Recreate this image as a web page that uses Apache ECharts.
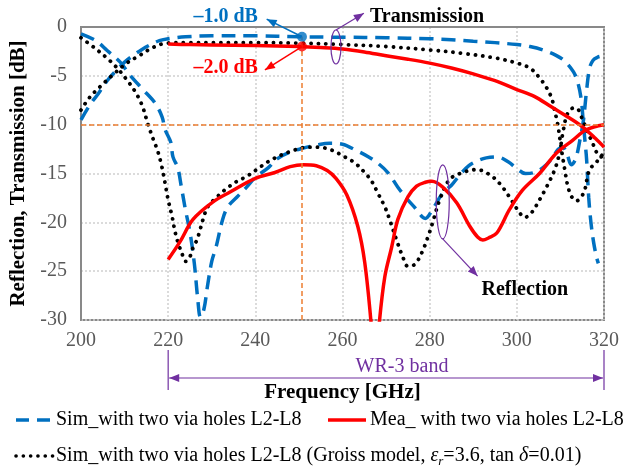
<!DOCTYPE html>
<html><head><meta charset="utf-8">
<script src="https://cdn.jsdelivr.net/npm/echarts/dist/echarts.min.js"></script>
<style>html,body{margin:0;padding:0;background:#fff}#c{width:625px;height:470px}</style>
</head><body><div id="c"></div>
<script>
// ---- axis ticks ----
const xTicks = [200, 220, 240, 260, 280, 300, 320];
const yTicks = [-30, -25, -20, -15, -10, -5, 0];

// ---- Sim_with two via holes (blue dashed): reflection ----
const simReflF = [200,203.4,206,209,211.2,214.2,217,218.6,219.3,220.6,221.1,222.2,223,224,225,226,226.8,227.4,228.2,229,230,231,232.5,233.7,235.8,238,240,243,245,248,251,254,257,260,263,266,268,270.4,272.7,275,276.6,278.2,279,280.5,283,285,287,289,291,293,295.5,298,300,302,304,306,308,309.5,310.5,311.5,312.5,313.5,314.5,315.3,316,316.7,317.5,318.5,319.3,320];
const simReflDb = [-0.7,-1.4,-2.4,-3.6,-4.9,-6.4,-7.8,-9.2,-10.5,-11.8,-13.3,-14.4,-16.3,-18.8,-21,-24.2,-27.9,-29.7,-28.9,-26.6,-24.0,-22.5,-19.7,-18.4,-17.4,-16.4,-15.4,-14.4,-13.5,-12.8,-12.4,-12.1,-11.9,-12.0,-12.6,-13.3,-13.9,-14.9,-16.4,-17.7,-18.5,-19.4,-19.6,-18.8,-17,-16.2,-15.1,-14.2,-13.7,-13.4,-13.3,-13.8,-14.5,-15.0,-14.9,-14.4,-13.5,-12.5,-12.3,-13,-14.1,-13.5,-11.5,-9.5,-6.5,-4.2,-3.4,-3.1,-3.0,-3.2];
// ---- Sim_with two via holes (blue dashed): transmission ----
const simTransF = [200,202,204,206,208,210,212,214,216,218,220,224,230,240,250,260,270,280,285,290,295,300,303,306,309,311,313,314,314.8,315.2,315.6,316,316.5,317,317.6,318.3,318.7];
const simTransDb = [-9.5,-8.0,-6.8,-5.5,-4.5,-3.6,-2.9,-2.3,-1.8,-1.4,-1.2,-1.0,-0.9,-0.9,-1.0,-1.05,-1.1,-1.2,-1.3,-1.45,-1.6,-1.8,-2.0,-2.35,-2.9,-3.5,-4.6,-5.7,-7.5,-9.5,-11.5,-13.5,-17.5,-20,-22,-23.6,-24.2];

// ---- Mea_ with two via holes (red solid) ----
const meaTransF = [220,225,230,240,250,255,260,265,270,275,280,285,290,295,300,304,308,312,315,318,320];
const meaTransDb = [-1.75,-1.8,-1.85,-1.9,-2.0,-2.1,-2.25,-2.55,-2.95,-3.3,-3.7,-4.2,-4.8,-5.5,-6.4,-7.1,-8.2,-9.3,-10.2,-11.4,-12.3];
const meaReflF = [220,222.7,225.7,230.3,234.2,240,244.5,248,251,254,256.5,258.5,261,263.5,265.1,266.6,267.5,268.4,269.7,271.3,272.7,275,277,279,280.5,283,286.2,289.2,291,292.2,293.5,295.4,298.3,301.3,305.2,309.1,312.8,316,320];
const meaReflDb = [-23.8,-22,-19.7,-17.9,-16.9,-15.5,-14.9,-14.3,-14.1,-14.2,-14.7,-15.5,-17.2,-20.4,-24.1,-30.5,-36,-30.5,-25.6,-22.5,-19.7,-17.4,-16.3,-15.9,-15.8,-16.4,-18,-20.4,-21.5,-21.8,-21.6,-21.1,-18.7,-16.7,-15,-12.9,-11.6,-10.5,-10.0];

// ---- Sim Groiss model (black dotted) ----
const groTransF = [200,202,204.4,207.3,210.5,213.5,216.5,219.7,225,240,250,260,270,280,287.6,295.4,300,303,305.2,306.8,308,308.7,309.4,309.9,310.4,311,311.7,312.6,313.7,314.8,315.7,316.3,317,318,319,320];
const groTransDb = [-8.5,-7.2,-6.1,-4.9,-3.7,-2.9,-2.1,-1.65,-1.6,-1.6,-1.65,-1.8,-2.0,-2.35,-2.7,-3.2,-3.7,-4.2,-5.2,-6.2,-7.3,-8.6,-10,-11.5,-13,-14.6,-16.3,-17.4,-17.8,-17.4,-16.5,-15.1,-14.4,-14.0,-13.4,-12.9];
const groReflF = [200,203,206,208.3,210.5,212.4,214,215.4,216.5,217.6,218.6,219.3,220,220.9,221.5,222.2,223.1,224,225,225.7,226.6,227.3,228,229.1,231.2,233.5,235.8,238,240.3,242.9,246,249,252,254.3,257.5,260.5,262.8,265.1,266.7,268.1,269.7,270.8,272.4,273.8,275,276.6,278.2,279.6,280.7,282.3,284.6,287.6,290.8,293.7,296,298.3,300.6,301.8,303.4,305.2,306.8,308.7,309.8,310.5,311.6,313,314,315,316.2,317.4,318.5,319.3,320];
const groReflDb = [-1.1,-2.1,-3.2,-4.2,-5.4,-6.6,-8,-10,-11.4,-12.7,-14.4,-16,-17.7,-19.4,-20.8,-22,-23.1,-24,-23.5,-22.6,-21.8,-20.8,-19.7,-18.4,-17.4,-16.5,-15.8,-15.3,-14.6,-13.8,-13.1,-12.6,-12.3,-12.3,-12.6,-13.3,-13.9,-14.9,-15.8,-17,-18.4,-19.7,-21.8,-23.5,-24.5,-24.3,-23.1,-21.5,-20,-17.7,-15.6,-14.9,-14.6,-15.1,-16,-17.4,-19,-19.5,-19,-17.7,-16.4,-14.6,-12.9,-11,-8.9,-8.3,-8.4,-9.4,-10.7,-11.9,-13.0,-13.3,-13.1];

// ---- reference markers ----
const markerF = [250.7];
const markerSimDb = [-1.0];
const markerMeaDb = [-2.0];
const refLevelDb = [-10];
const bandF = [220, 320];

const BLUE = '#0070C0', RED = '#FF0000', BLACK = '#000000', ORANGE = '#ED7D31', PURPLE = '#7030A0', GREY = '#898989';
const FONT = '"Liberation Serif", "Times New Roman", serif';
const zip = (a, b) => a.map((v, i) => [v, b[i]]);

const chart = echarts.init(document.getElementById('c'), null, {renderer: 'canvas'});

const blueLine = {color: BLUE, width: 3.5, type: [14, 8]};
const redLine = {color: RED, width: 3.5, join: 'round'};
const blackLine = {color: BLACK, width: 3.8, type: [0.1, 7.4], cap: 'round'};
const SM = 0.35;

const option = {
  animation: false,
  backgroundColor: '#fff',
  grid: {left: 81, right: 21, top: 27, bottom: 150, show: true, borderColor: GREY, borderWidth: 2, backgroundColor: 'transparent'},
  xAxis: {
    type: 'value', min: xTicks[0], max: xTicks[xTicks.length - 1], interval: 20,
    axisLine: {show: true, lineStyle: {color: GREY, width: 2}},
    axisTick: {show: false},
    axisLabel: {color: '#595959', fontSize: 20, fontFamily: FONT, margin: 11},
    splitLine: {show: true, lineStyle: {color: '#cfcfcf', width: 1.5, type: [2, 2]}},
    name: 'Frequency [GHz]', nameLocation: 'middle', nameGap: 62,
    nameTextStyle: {color: '#000', fontSize: 21, fontWeight: 'bold', fontFamily: FONT}
  },
  yAxis: {
    type: 'value', min: yTicks[0], max: yTicks[yTicks.length - 1], interval: 5,
    axisLine: {show: true, lineStyle: {color: GREY, width: 2}},
    axisTick: {show: false},
    axisLabel: {color: '#595959', fontSize: 20, fontFamily: FONT, margin: 14},
    splitLine: {show: true, lineStyle: {color: '#cfcfcf', width: 1.5, type: [2, 2]}},
    name: 'Reflection, Transmission [dB]', nameLocation: 'middle', nameGap: 43,
    nameTextStyle: {color: '#000', fontSize: 21, fontWeight: 'bold', fontFamily: FONT}
  },
  series: [
    {type: 'line', name: 'ref', data: [], z: 1, silent: true,
     markLine: {silent: true, symbol: 'none', label: {show: false}, animation: false,
       lineStyle: {color: ORANGE, width: 1.5, type: [5, 3]},
       data: [
         [{coord: [markerF[0], yTicks[0]]}, {coord: [markerF[0], markerSimDb[0]]}],
         [{coord: [xTicks[0], refLevelDb[0]]}, {coord: [xTicks[xTicks.length - 1], refLevelDb[0]]}]
       ]}},
    {type: 'line', name: 'simRefl', data: zip(simReflF, simReflDb), showSymbol: false, smooth: SM, lineStyle: blueLine, z: 2},
    {type: 'line', name: 'simTrans', data: zip(simTransF, simTransDb), showSymbol: false, smooth: SM, lineStyle: blueLine, z: 2},
    {type: 'line', name: 'groRefl', data: zip(groReflF, groReflDb), showSymbol: false, smooth: SM, lineStyle: blackLine, z: 3},
    {type: 'line', name: 'groTrans', data: zip(groTransF, groTransDb), showSymbol: false, smooth: SM, lineStyle: blackLine, z: 3},
    {type: 'line', name: 'meaTrans', data: zip(meaTransF, meaTransDb), showSymbol: false, smooth: SM, lineStyle: redLine, z: 4},
    {type: 'line', name: 'meaRefl', data: zip(meaReflF, meaReflDb), showSymbol: false, smooth: SM, lineStyle: redLine, z: 4},
    {type: 'scatter', name: 'simMark', data: zip(markerF, markerSimDb), symbolSize: 10, itemStyle: {color: BLUE}, z: 6},
    {type: 'scatter', name: 'meaMark', data: zip(markerF, markerMeaDb), symbolSize: 10, itemStyle: {color: RED}, z: 6}
  ]
};
chart.setOption(option);

const px = (f, d) => chart.convertToPixel({gridIndex: 0}, [f, d]);

function arrow(p1, p2, color, w, both) {
  const els = [{type: 'line', shape: {x1: p1[0], y1: p1[1], x2: p2[0], y2: p2[1]}, style: {stroke: color, lineWidth: w}, z: 100}];
  const head = (a, b) => {
    const ang = Math.atan2(b[1] - a[1], b[0] - a[0]);
    const L = 10, H = 4;
    const bx = b[0] - L * Math.cos(ang), by = b[1] - L * Math.sin(ang);
    return {type: 'polygon', shape: {points: [[b[0], b[1]], [bx + H * Math.sin(ang), by - H * Math.cos(ang)], [bx - H * Math.sin(ang), by + H * Math.cos(ang)]]}, style: {fill: color}, z: 100};
  };
  els.push(head(p1, p2));
  if (both) els.push(head(p2, p1));
  return els;
}
function text(t, p, color, size, bold, align) {
  return {type: 'text', z: 100, style: {text: t, x: p[0], y: p[1], fill: color, font: (bold ? 'bold ' : '') + size + 'px ' + FONT, align: align || 'center', verticalAlign: 'middle'}};
}

const dotS = px(markerF[0], markerSimDb[0]);
const dotM = px(markerF[0], markerMeaDb[0]);
const g = [];
g.push(text('\u20131.0 dB', px(233.2, 1.0), BLUE, 20, true));
g.push(...arrow(dotS, px(242.6, 0.8), BLUE, 1.5));
g.push(text('\u20132.0 dB', px(233.2, -4.2), RED, 20, true));
g.push(...arrow(dotM, px(242.2, -4.4), RED, 1.5));
g.push(text('Transmission', px(266.3, 1.0), BLACK, 20, true, 'left'));
const te = px(258.5, -2.05);
g.push({type: 'ellipse', z: 100, shape: {cx: te[0], cy: te[1], rx: 5, ry: 17}, style: {fill: 'none', stroke: PURPLE, lineWidth: 1.2}});
g.push(...arrow([te[0], te[1] - 17], px(264.9, 1.4), PURPLE, 1.2));
g.push(text('Reflection', px(291.9, -26.9), BLACK, 20, true, 'left'));
const re = px(283, -17.9);
g.push({type: 'ellipse', z: 100, shape: {cx: re[0], cy: re[1], rx: 6.5, ry: 37}, style: {fill: 'none', stroke: PURPLE, lineWidth: 1.2}});
g.push(...arrow([re[0], re[1] + 37], px(291, -25.5), PURPLE, 1.2));
// WR-3 band
const b1 = px(bandF[0], yTicks[0]), b2 = px(bandF[1], yTicks[0]);
g.push({type: 'line', z: 100, shape: {x1: b1[0], y1: 350, x2: b1[0], y2: 390}, style: {stroke: PURPLE, lineWidth: 1.2}});
g.push({type: 'line', z: 100, shape: {x1: b2[0], y1: 350, x2: b2[0], y2: 390}, style: {stroke: PURPLE, lineWidth: 1.2}});
g.push(...arrow([b1[0] + 1, 378], [b2[0] - 1, 378], PURPLE, 1.2, true));
g.push(text('WR-3 band', [402, 367], PURPLE, 20, false));
// legend
g.push({type: 'line', z: 100, shape: {x1: 16, y1: 420, x2: 50, y2: 420}, style: {stroke: BLUE, lineWidth: 3.5, lineDash: [13, 8]}});
g.push(text('Sim_with two via holes L2-L8', [56, 420], BLACK, 20, false, 'left'));
g.push({type: 'line', z: 100, shape: {x1: 328, y1: 420, x2: 366, y2: 420}, style: {stroke: RED, lineWidth: 3.5}});
g.push(text('Mea_ with two via holes L2-L8', [370, 420], BLACK, 20, false, 'left'));
g.push({type: 'line', z: 100, shape: {x1: 16, y1: 456, x2: 53, y2: 456}, style: {stroke: BLACK, lineWidth: 3.6, lineDash: [0.1, 7.2], lineCap: 'round'}});
g.push({type: 'text', z: 100, style: {
  x: 56, y: 456, verticalAlign: 'middle', align: 'left',
  text: '{n|Sim_with two via holes L2-L8 (Groiss model, }{i|\u03b5}{s|r}{n|=3.6, tan }{i|\u03b4}{n|=0.01)}',
  rich: {
    n: {fontFamily: FONT, fontSize: 20, fill: BLACK, color: BLACK},
    i: {fontFamily: FONT, fontSize: 20, fontStyle: 'italic', fill: BLACK, color: BLACK},
    s: {fontFamily: FONT, fontSize: 13, fontStyle: 'italic', fill: BLACK, color: BLACK, padding: [12, 0, 0, 0]}
  }
}});
chart.setOption({graphic: g});
</script></body></html>
